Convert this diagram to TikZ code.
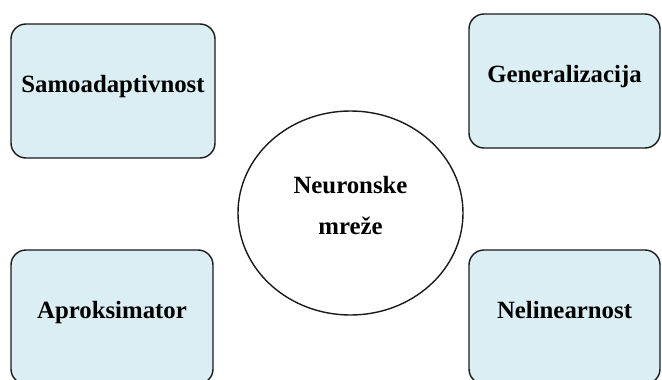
\documentclass[tikz,border=0pt]{standalone}
\usepackage{fontspec}
\setmainfont{Liberation Serif}
\usetikzlibrary{shapes.geometric}
\definecolor{boxfill}{HTML}{DAEEF3}
\definecolor{edge}{HTML}{1A1A1A}
\tikzset{
  lbl/.style={font=\fontsize{24.8}{41}\selectfont\bfseries},
  featbox/.style={draw=edge, line width=1.4pt, fill=boxfill, rounded corners=15pt,
    inner sep=0pt, lbl, text height=12pt, text depth=8.6pt},
  hub/.style={draw=edge, line width=1.4pt, ellipse, inner sep=0pt,
    minimum width=225pt, minimum height=204pt}
}
\begin{document}
\begin{tikzpicture}[x=1pt, y=-1pt]
\useasboundingbox (0,0) rectangle (662,380);
\node[featbox, minimum width=204pt, minimum height=134pt] (samo) at (113,91) {Samoadaptivnost};
\node[featbox, minimum width=191pt, minimum height=134pt] (gen) at (564.5,81) {Generalizacija};
\node[featbox, minimum width=202pt, minimum height=134pt] (apr) at (112,317) {Aproksimator};
\node[featbox, minimum width=191pt, minimum height=134pt] (nel) at (564.5,317) {Nelinearnost};
\node[hub, label={[lbl, align=center, yshift=7pt]center:Neuronske\\mreže}] (nm) at (350.5,213) {};
\end{tikzpicture}
\end{document}
